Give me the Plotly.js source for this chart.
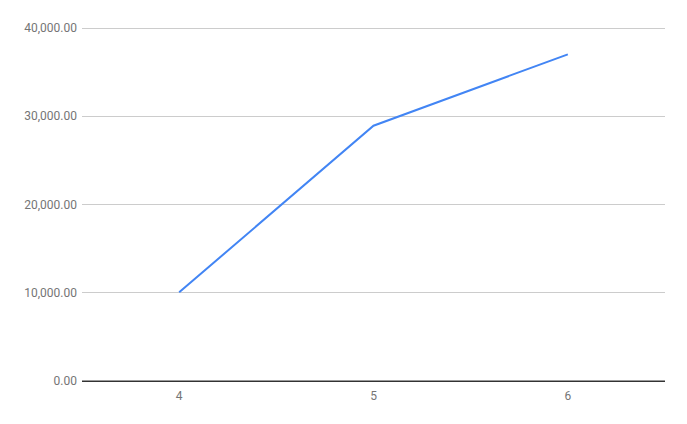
<!DOCTYPE html>
<html>
<head>
<meta charset="utf-8">
<script src="https://cdn.plot.ly/plotly-3.0.1.min.js"></script>
<style>
  html, body { margin: 0; padding: 0; background: #fff; }
  #chart { width: 687px; height: 424px; }
</style>
</head>
<body>
<div id="chart"></div>
<script>
var categories = ['4', '5', '6'];
var values = [10050, 28930, 37020];
var yTicks = [0, 10000, 20000, 30000, 40000];
var yTickLabels = ['0.00', '10,000.00', '20,000.00', '30,000.00', '40,000.00'];

var data = [{
	x : categories,
	y : values,
	type: 'scatter',
	mode: 'lines',
	line: {
		color: '#4285f4',
		width: 2
	},
	hoverinfo: 'x+y'
}];

var layout = {
	width: 687,
	height: 424,
	margin: {l: 82, r: 22, t: 26, b: 43, pad: 0},
	paper_bgcolor: '#fff',
	plot_bgcolor: '#fff',
	font: {family: 'Roboto, sans-serif', size: 12, color: '#757575'},
	showlegend: false,
	xaxis: {
		type: 'category',
		range: [-0.5, 2.5],
		showgrid: false,
		zeroline: false,
		showline: true,
		linecolor: '#333333',
		linewidth: 1,
		ticks: '',
		ticklabelstandoff: 4,
		tickfont: {family: 'Roboto, sans-serif', size: 12, color: '#757575'}
	},
	yaxis: {
		// a little headroom so the 40,000 gridline is drawn
		range: [0, 40230],
		tickmode: 'array',
		tickvals: yTicks,
		ticktext: yTickLabels,
		showgrid: true,
		gridcolor: '#cccccc',
		gridwidth: 1,
		zeroline: false,
		showline: false,
		ticks: '',
		ticklabelstandoff: 4,
		tickfont: {family: 'Roboto, sans-serif', size: 12, color: '#757575'}
	}
};

// zero line drawn as a shape so it sits over the grid
layout.shapes = [{
	type: 'line', xref: 'paper', yref: 'y',
	x0: 0, x1: 1, y0: 0, y1: 0,
	line: {color: '#333333', width: 1}
}];

var config = {responsive: false, displayModeBar: false, staticPlot: true};

Plotly.newPlot('chart', data, layout, config);
</script>
</body>
</html>
